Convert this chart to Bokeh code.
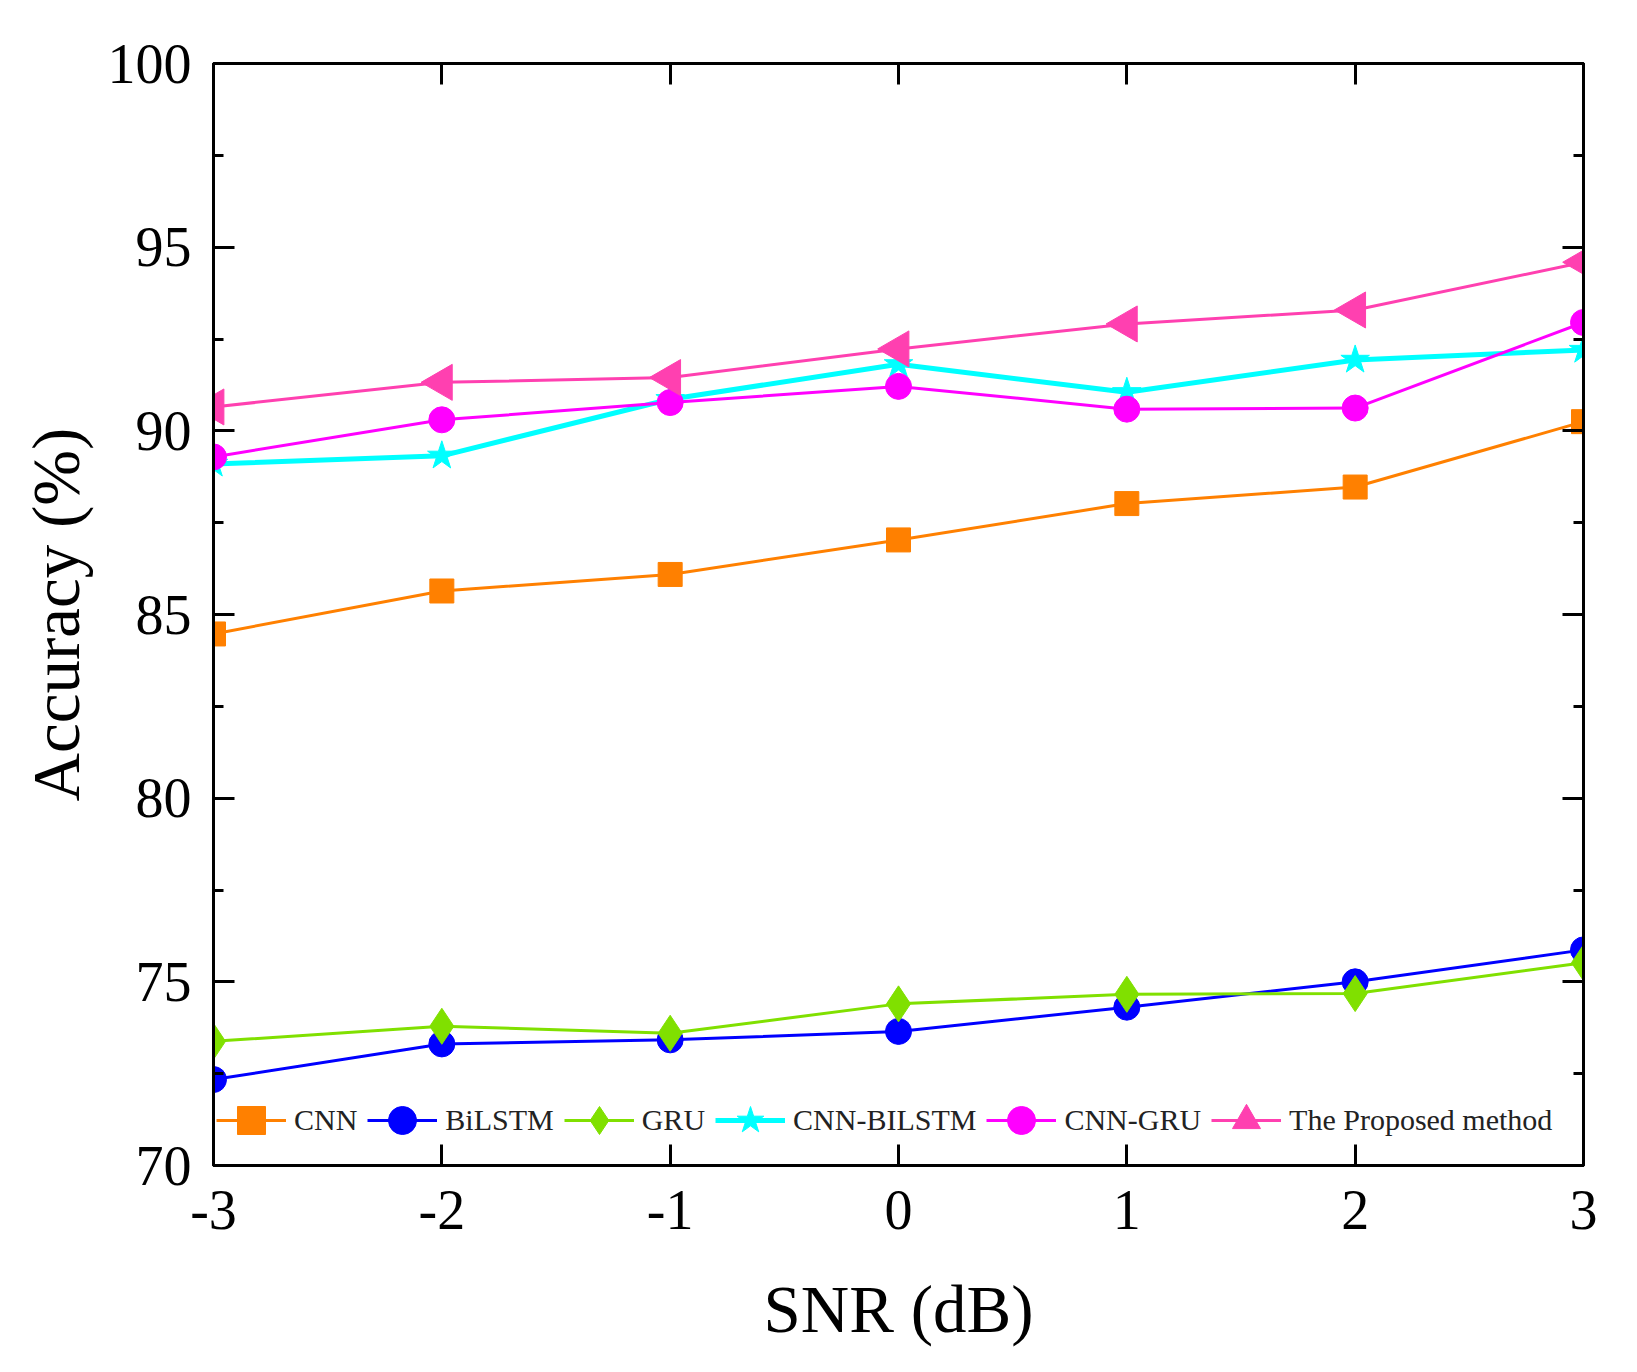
import numpy as np
from bokeh.plotting import figure
from bokeh.models import (Range1d, FixedTicker, LinearAxis, CustomJSTickFormatter, Legend)
from bokeh.embed import file_html
from bokeh.resources import INLINE

snr = [-3, -2, -1, 0, 1, 2, 3]
cnn = [84.47, 85.64, 86.09, 87.03, 88.02, 88.47, 90.25]
bilstm = [72.34, 73.31, 73.42, 73.65, 74.31, 75.00, 75.87]
gru = [73.38, 73.79, 73.60, 74.40, 74.66, 74.68, 75.52]
cnn_bilstm = [89.10, 89.32, 90.86, 91.81, 91.05, 91.93, 92.20]
cnn_gru = [89.29, 90.30, 90.77, 91.21, 90.59, 90.62, 92.95]
proposed = [90.65, 91.32, 91.45, 92.23, 92.91, 93.29, 94.59]

y_ticks = [70, 75, 80, 85, 90, 95, 100]
y_minor = [72.5, 77.5, 82.5, 87.5, 92.5, 97.5]
x_ticks = [-3, -2, -1, 0, 1, 2, 3]

FONT = "Liberation Serif"

p = figure(width=1630, height=1370, output_backend="svg", toolbar_location=None,
           x_range=Range1d(-3, 3), y_range=Range1d(70, 100),
           min_border_left=213, min_border_right=47, min_border_top=63, min_border_bottom=205,
           x_axis_label="SNR (dB)", y_axis_label="Accuracy (%)")
p.xgrid.visible = False
p.ygrid.visible = False
p.outline_line_color = "black"
p.outline_line_width = 3
p.background_fill_color = "white"
p.border_fill_color = "white"

series = [
    ("CNN", cnn, "#FF8000", "square", 24, 3, 0.0),
    ("BiLSTM", bilstm, "#0000FF", "circle", 26, 3, 0.0),
    ("GRU", gru, "#80E000", "diamond", 36, 3, 0.0),
    ("CNN-BILSTM", cnn_bilstm, "#00FFFF", "star", 30, 5, 0.0),
    ("CNN-GRU", cnn_gru, "#FF00FF", "circle", 26, 3, 0.0),
    ("The Proposed method", proposed, "#FF40B0", "triangle", 36, 3, np.pi / 2),
]

items = []
for name, vals, col, mk, sz, lw, ang in series:
    l = p.line(snr, vals, line_color=col, line_width=lw)
    s = p.scatter(snr, vals, marker=mk, size=sz, fill_color=col, line_color=col, angle=ang)
    items.append((name, [l, s]))

legend = Legend(items=items, orientation="horizontal", location=(3, 10),
                label_text_font=FONT, label_text_font_size="30px", label_text_color="#222222",
                glyph_width=70, glyph_height=70, label_height=70, label_standoff=8, spacing=10,
                padding=0, margin=0, border_line_alpha=0, background_fill_alpha=0)
p.add_layout(legend, "center")

yt = FixedTicker(ticks=y_ticks, minor_ticks=y_minor)
xt = FixedTicker(ticks=x_ticks, minor_ticks=[])

def style(ax, labels=True):
    ax.axis_line_color = "black"
    ax.axis_line_width = 3
    ax.major_tick_line_color = "black"
    ax.major_tick_line_width = 3
    ax.minor_tick_line_color = "black"
    ax.minor_tick_line_width = 3
    ax.major_tick_in = 21
    ax.major_tick_out = 0
    ax.minor_tick_in = 10
    ax.minor_tick_out = 0
    ax.major_label_text_font = FONT
    ax.major_label_text_font_size = "56px"
    ax.major_label_text_color = "black"
    ax.axis_label_text_font = FONT
    ax.axis_label_text_font_size = "67px"
    ax.axis_label_text_font_style = "normal"
    ax.axis_label_text_color = "black"
    if not labels:
        ax.formatter = CustomJSTickFormatter(code="return ''")
        ax.major_label_standoff = 0

xa = p.xaxis[0]
xa.ticker = xt
style(xa)
xa.formatter = CustomJSTickFormatter(code="return tick.toString()")
xa.major_label_standoff = 25
xa.axis_label_standoff = 40

ya = p.yaxis[0]
ya.ticker = yt
style(ya)
ya.major_label_standoff = 22
ya.axis_label_standoff = 12

top = LinearAxis(ticker=FixedTicker(ticks=x_ticks, minor_ticks=[]))
style(top, labels=False)
p.add_layout(top, "above")

right = LinearAxis(ticker=FixedTicker(ticks=y_ticks, minor_ticks=y_minor))
style(right, labels=False)
p.add_layout(right, "right")

open("out.html", "w").write(file_html(p, INLINE))
